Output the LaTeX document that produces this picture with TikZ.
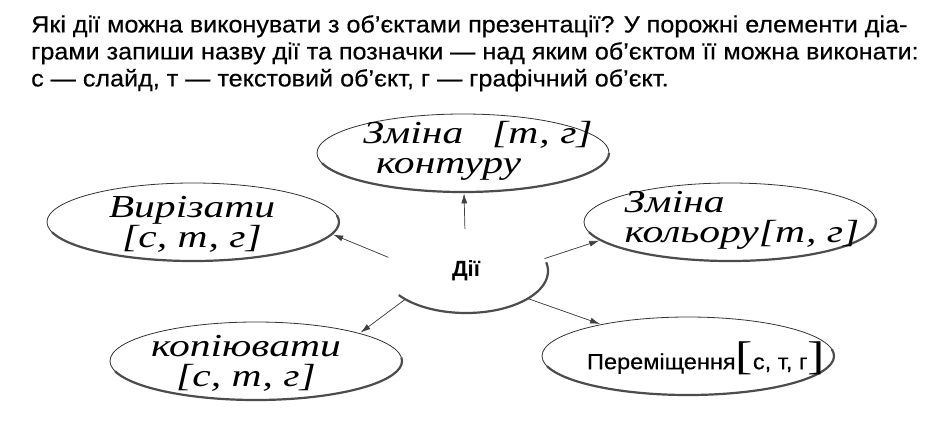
\documentclass[tikz,border=0pt]{standalone}
\usepackage{fontspec}
\setmainfont{Liberation Sans}
\newfontfamily\printed[FakeStretch=1.07,FakeBold=0.4]{Liberation Sans}
\newfontfamily\hand[FakeStretch=1.3]{Liberation Serif}
\usetikzlibrary{arrows.meta,shapes.geometric}

\begin{document}
\begin{tikzpicture}[x=1pt,y=-1pt]

\tikzset{action/.style = {shape=ellipse,draw=black!80,line width=0.8pt,inner sep=0pt,minimum width=292pt,minimum height=78pt}}
\tikzset{written/.style = {font=\hand\itshape\fontsize{32}{30}\selectfont}}
\tikzset{shade/.style = {draw=black!70,line width=2.2pt}}
\tikzset{link/.style = {->,>={Latex[length=10pt,width=6pt]},draw=black!75,fill=black!75,line width=0.7pt,shorten >=1pt}}

\useasboundingbox[fill=white] (0,0) rectangle (948,426);

% task
\node[anchor=north west,align=left,inner sep=0pt,font=\printed\fontsize{23.5}{27}\selectfont] (task) at (31,15)
  {Які дії можна виконувати з об’єктами презентації? У порожні елементи діа-\\
   грами запиши назву дії та позначки — над яким об’єктом її можна виконати:\\
   с — слайд, т — текстовий об’єкт, г — графічний об’єкт.};

% ellipses
\node[action] (contour) at (463,153) {};
\node[action] (cut) at (193,222) {};
\node[action] (colour) at (730,222) {};
\node[action] (copy) at (256,361) {};
\node[action] (move) at (688,356) {};
\node[shape=ellipse,inner sep=0pt,minimum width=164pt,minimum height=84pt,font=\bfseries\fontsize{22}{24}\selectfont] (act) at (466,271) {Дії};

% shadows
\draw[shade] ([shift={(195:146pt and 39pt)}]contour.center) arc[start angle=195,end angle=360,x radius=146pt,y radius=39pt];
\draw[shade] ([shift={(195:146pt and 39pt)}]cut.center) arc[start angle=195,end angle=370,x radius=146pt,y radius=39pt];
\draw[shade] ([shift={(195:146pt and 39pt)}]colour.center) arc[start angle=195,end angle=365,x radius=146pt,y radius=39pt];
\draw[shade] ([shift={(195:146pt and 39pt)}]copy.center) arc[start angle=195,end angle=365,x radius=146pt,y radius=39pt];
\draw[shade] ([shift={(195:146pt and 39pt)}]move.center) arc[start angle=195,end angle=370,x radius=146pt,y radius=39pt];
\draw[shade] ([shift={(215:82pt and 42pt)}]act.center) arc[start angle=215,end angle=372,x radius=82pt,y radius=42pt];

% labels
\node[written,align=left] (contour-text) at (478,151) {Зміна\hspace{0.9em}[т, г]\\\hspace{0.4em}контуру};
\node[written,align=center] (cut-text) at (192,224) {Вирізати\\{}[с, т, г]};
\node[written,align=left] (colour-text) at (742,220) {Зміна\\кольору[т, г]};
\node[written,align=center] (copy-text) at (246,363) {копіювати\\{}[с, т, г]};
\node[font=\printed\fontsize{22}{24}\selectfont] (move-text) at (706,358)
  {Переміщення{\hand\fontsize{40}{40}\selectfont[}с, т, г{\hand\fontsize{40}{40}\selectfont]}};

% arrows
\draw[link] (act) -- (contour);
\draw[link] (act.170) -- (cut.-5);
\draw[link] (act.9) -- (colour.188);
\draw[link] (act.205) -- (copy.15);
\draw[link] (act.-24) -- (move.160);

\end{tikzpicture}
\end{document}
